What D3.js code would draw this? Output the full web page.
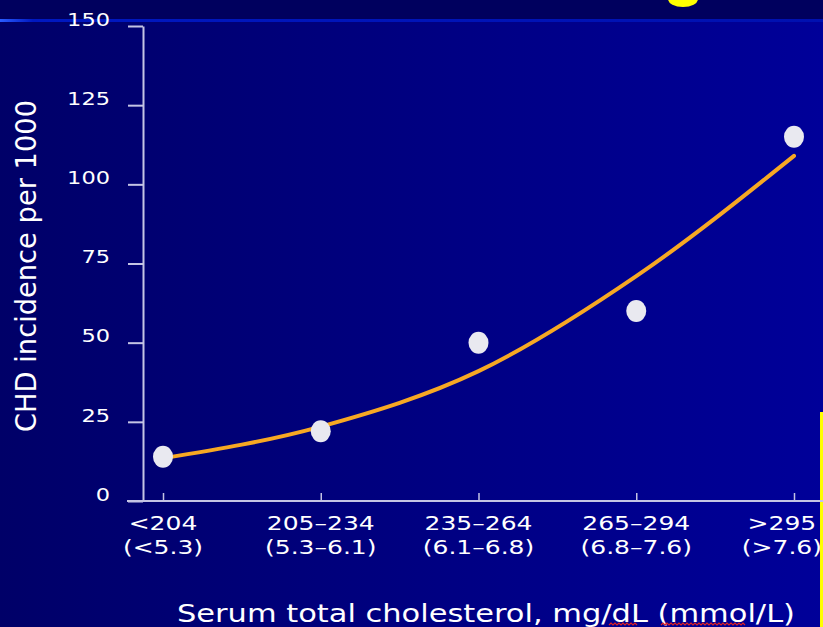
<!DOCTYPE html>
<html>
<head>
<meta charset="utf-8">
<script src="https://cdn.jsdelivr.net/npm/d3@7"></script>
<style>
  html, body { margin: 0; padding: 0; background: #000066; overflow: hidden; }
  svg { display: block; }
  text { font-family: "DejaVu Sans", Verdana, sans-serif; fill: #ffffff; }
</style>
</head>
<body>
<svg id="chart" width="823" height="627"></svg>
<script>
// ---- data ----
const categories = ["<204", "205–234", "235–264", "265–294", ">295"];
const categoriesMmol = ["(<5.3)", "(5.3–6.1)", "(6.1–6.8)", "(6.8–7.6)", "(>7.6)"];
const incidence = [14, 22, 50, 60, 115];          // observed CHD incidence per 1000
const fitted = [13.5, 23.5, 41, 71, 109];         // fitted curve read at each category
const yTicks = [0, 25, 50, 75, 100, 125, 150];
const yTitle = "CHD incidence per 1000";
const xTitle = "Serum total cholesterol, mg/dL (mmol/L)";

// ---- layout ----
const W = 823, H = 627;
const axisColor = "#c4c4e4";
const stretch = 1.25;

const svg = d3.select("#chart");
const defs = svg.append("defs");
const bg = defs.append("linearGradient").attr("id", "bg").attr("x1", "0").attr("x2", "1").attr("y1", "0").attr("y2", "0");
bg.append("stop").attr("offset", "0").attr("stop-color", "#000068");
bg.append("stop").attr("offset", "1").attr("stop-color", "#000099");
const band = defs.append("linearGradient").attr("id", "band").attr("x1", "0").attr("x2", "1");
band.append("stop").attr("offset", "0").attr("stop-color", "#2a5cff");
band.append("stop").attr("offset", "0.04").attr("stop-color", "#0018c0");
band.append("stop").attr("offset", "1").attr("stop-color", "#0010b0");

svg.append("rect").attr("width", W).attr("height", H).attr("fill", "url(#bg)");
svg.append("rect").attr("width", W).attr("height", 19).attr("fill", "#00005e");
svg.append("rect").attr("y", 19).attr("width", W).attr("height", 3).attr("fill", "url(#band)");
// decorative yellow shapes from the slide
svg.append("ellipse").attr("cx", 683).attr("cy", -1).attr("rx", 15).attr("ry", 8).attr("fill", "#ffff00");
svg.append("rect").attr("x", 820).attr("y", 412).attr("width", 3).attr("height", H - 412).attr("fill", "#ffff00");

const x = d3.scalePoint().domain(categories).range([163, 794]);
const y = d3.scaleLinear().domain([0, 150]).range([501, 26]);

// Y axis
const yAxis = svg.append("g").attr("transform", "translate(143,0)")
  .call(d3.axisLeft(y).tickValues(yTicks).tickSize(15).tickSizeOuter(0).tickFormat(d3.format("d")));
yAxis.select(".domain").attr("stroke", axisColor).attr("stroke-width", 2);
yAxis.selectAll(".tick line").attr("stroke", axisColor).attr("stroke-width", 2);
yAxis.selectAll(".tick text")
  .attr("x", -33 / stretch).attr("y", -7).attr("dy", "0.35em")
  .attr("transform", `scale(${stretch},1)`)
  .style("font-size", "18px").style("font-family", "DejaVu Sans, sans-serif")
  .attr("fill", "#ffffff");

// X axis
svg.append("line").attr("x1", 127).attr("x2", W).attr("y1", y(0)).attr("y2", y(0))
  .attr("stroke", axisColor).attr("stroke-width", 2);
const xAxis = svg.append("g").attr("transform", `translate(0,${y(0)})`)
  .call(d3.axisBottom(x).tickSize(-8).tickSizeOuter(0).tickFormat(""));
xAxis.select(".domain").remove();
xAxis.selectAll(".tick line").attr("stroke", axisColor).attr("stroke-width", 1.5);

const lab = svg.append("g");
categories.forEach((c, i) => {
  const g = lab.append("g");
  const t1 = g.append("text").attr("y", 530).attr("text-anchor", "middle").style("font-size", "20px").text(c);
  const t2 = g.append("text").attr("y", 554).attr("text-anchor", "middle").style("font-size", "20px").text(categoriesMmol[i]);
  // keep labels inside the picture: shift the group left if the widest line would overflow
  const half = Math.max(t1.node().getComputedTextLength(), t2.node().getComputedTextLength()) * stretch / 2;
  const cx = Math.min(x(c), W - 1 - half);
  g.attr("transform", `translate(${cx},0) scale(${stretch},1)`);
});

// axis titles
svg.append("text").attr("x", 177).attr("y", 622).attr("textLength", 618).attr("lengthAdjust", "spacingAndGlyphs")
  .style("font-size", "24px").text(xTitle);
// spell-check squiggles under "dL" and "mmol"
function squiggle(x0, x1, yy) {
  const pts = [];
  for (let px = x0, k = 0; px <= x1; px += 2, k++) pts.push([px, yy + (k % 2 ? -1 : 1)]);
  svg.append("path").attr("d", d3.line()(pts)).attr("fill", "none").attr("stroke", "#e02020").attr("stroke-width", 1.2);
}
squiggle(609, 638, 624);
squiggle(661, 745, 624);

svg.append("text")
  .attr("transform", `translate(36,266) scale(1.2,1) rotate(-90)`)
  .attr("text-anchor", "middle").attr("textLength", 332).attr("lengthAdjust", "spacingAndGlyphs")
  .style("font-size", "23px").text(yTitle);

// fitted curve
const line = d3.line().x((d, i) => x(categories[i])).y(d => y(d)).curve(d3.curveMonotoneX);
svg.append("path").datum(fitted).attr("d", line)
  .attr("fill", "none").attr("stroke", "#f7a823").attr("stroke-width", 4).attr("stroke-linecap", "round");

// observed points
svg.append("g").selectAll("ellipse").data(incidence).join("ellipse")
  .attr("cx", (d, i) => x(categories[i])).attr("cy", d => y(d))
  .attr("rx", 10).attr("ry", 11).attr("fill", "#e9e9f0");
</script>
</body>
</html>
